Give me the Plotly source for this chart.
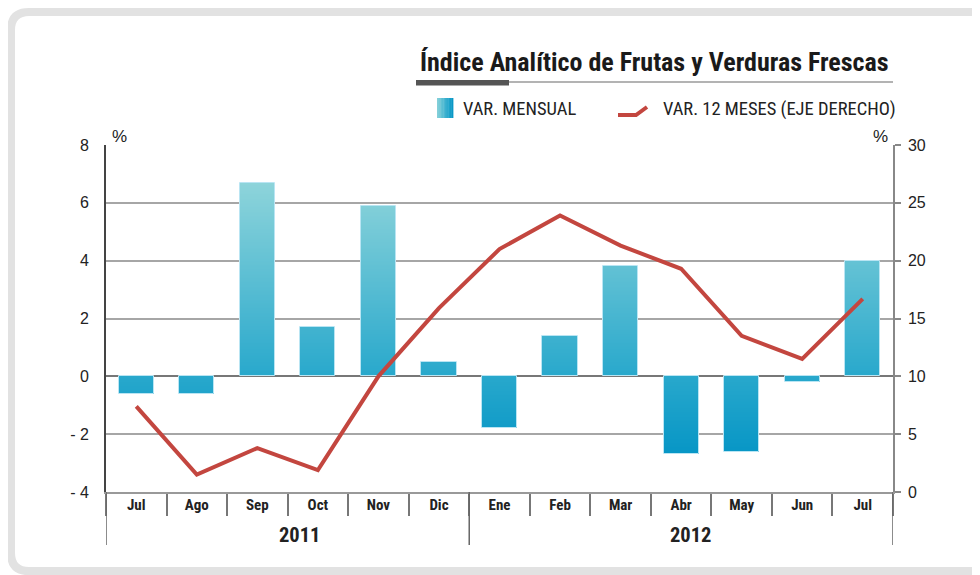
import plotly.graph_objects as go

# ---------------- data ----------------
months = ["Jul", "Ago", "Sep", "Oct", "Nov", "Dic", "Ene", "Feb", "Mar", "Abr", "May", "Jun", "Jul"]
years = ["2011"] * 6 + ["2012"] * 7
var_mensual = [-0.6, -0.6, 6.7, 1.7, 5.9, 0.5, -1.8, 1.4, 3.8, -2.7, -2.6, -0.2, 4.0]
var_12m = [7.4, 1.5, 3.8, 1.9, 10.0, 15.9, 21.0, 23.9, 21.3, 19.3, 13.5, 11.5, 16.7]
left_ticks = [-4, -2, 0, 2, 4, 6, 8]
left_ticktext = ["- 4", "- 2", "0", "2", "4", "6", "8"]
right_ticks = [0, 5, 10, 15, 20, 25, 30]
year_labels = ["2011", "2012"]
year_label_pos = [2.7, 9.15]
year_dividers = [-0.5, 5.5, 12.5]

cats = [f"{m}-{y}" for m, y in zip(months, years)]

# ------------- geometry helpers (reference pixel coords) -------------
OFF = 8                      # default page body margin
W, H = 980 - OFF, 575 - OFF
L, R, T, B = 106, 893, 145, 492
PW, PH = R - L, B - T


def xp(px):
    return (px - L) / PW


def yp(py):
    return (B - py) / PH


FONT_N = "Liberation Sans Narrow, Arial Narrow, Roboto Condensed, Liberation Sans, sans-serif"
FONT = "Liberation Sans, Arial, sans-serif"

# --------- gradient colour by absolute value ---------
stops = [(-3.0, (3, 148, 197)), (0.0, (40, 168, 204)), (7.0, (146, 214, 219))]


def grad(v):
    if v <= stops[0][0]:
        return "rgb(%d,%d,%d)" % stops[0][1]
    for (v0, c0), (v1, c1) in zip(stops[:-1], stops[1:]):
        if v <= v1:
            f = (v - v0) / (v1 - v0)
            return "rgb(%d,%d,%d)" % tuple(round(a + f * (b - a)) for a, b in zip(c0, c1))
    return "rgb(%d,%d,%d)" % stops[-1][1]


step = 0.05
seg_x, seg_base, seg_h, seg_c = [], [], [], []
for c, v in zip(cats, var_mensual):
    n = int(round(abs(v) / step))
    sgn = 1 if v >= 0 else -1
    for k in range(n):
        b0 = sgn * k * step
        h = sgn * min(step * 1.6, abs(v) - k * step)
        seg_x.append(c)
        seg_base.append(b0)
        seg_h.append(h)
        seg_c.append(grad(b0 + h / 2))

fig = go.Figure()

fig.add_trace(go.Bar(
    x=seg_x, y=seg_h, base=seg_base, width=0.58,
    marker=dict(color=seg_c, line=dict(width=0)),
    showlegend=False, hoverinfo="skip",
))
fig.add_trace(go.Bar(
    x=cats, y=var_mensual, width=0.58, name="VAR. MENSUAL",
    marker=dict(color="rgba(0,0,0,0)", line=dict(color="#b9e5f3", width=1)),
    showlegend=False,
))
fig.add_trace(go.Scatter(
    x=cats, y=var_12m, yaxis="y2", mode="lines", name="VAR. 12 MESES (EJE DERECHO)",
    line=dict(color="#c3463f", width=4), showlegend=False,
))

shapes = []
annotations = []

# outer rounded frame
x0, y0, x1, y1, r = 11, 12, 1000, 571, 18
path = (f"M {xp(x0)},{yp(y0 + r)} L {xp(x0)},{yp(y1 - r)} Q {xp(x0)},{yp(y1)} {xp(x0 + r)},{yp(y1)} "
        f"L {xp(x1)},{yp(y1)} L {xp(x1)},{yp(y0)} L {xp(x0 + r)},{yp(y0)} Q {xp(x0)},{yp(y0)} {xp(x0)},{yp(y0 + r)} Z")
shapes.append(dict(type="path", xref="paper", yref="paper", path=path,
                   line=dict(color="#e2e2e2", width=8), fillcolor="rgba(0,0,0,0)", layer="below"))

# title + underline
annotations.append(dict(text="<b>Índice Analítico de Frutas y Verduras Frescas</b>", xref="paper", yref="paper",
                        x=xp(891), y=yp(62), xanchor="right", yanchor="middle", showarrow=False,
                        font=dict(family=FONT_N, size=26, color="#1a1a1a")))
shapes.append(dict(type="line", xref="paper", yref="paper", x0=xp(416), x1=xp(893), y0=yp(82), y1=yp(82),
                   line=dict(color="#9a9a9a", width=1.5)))
shapes.append(dict(type="rect", xref="paper", yref="paper", x0=xp(416), x1=xp(509), y0=yp(80), y1=yp(85.5),
                   line=dict(width=0), fillcolor="#555555"))

# legend: gradient square
nsq = 10
for i in range(nsq):
    f = i / (nsq - 1)
    col = grad(6.0 - f * 8.5)
    shapes.append(dict(type="rect", xref="paper", yref="paper",
                       x0=xp(437 + i * 1.6), x1=xp(437 + (i + 1) * 1.6 + 0.4), y0=yp(98), y1=yp(118),
                       line=dict(width=0), fillcolor=col))
annotations.append(dict(text="VAR. MENSUAL", xref="paper", yref="paper", x=xp(461), y=yp(109),
                        xanchor="left", yanchor="middle", showarrow=False,
                        font=dict(family=FONT_N, size=18.5, color="#222")))
shapes.append(dict(type="path", xref="paper", yref="paper",
                   path=f"M {xp(618)},{yp(115)} L {xp(636)},{yp(115)} L {xp(647)},{yp(107)}",
                   line=dict(color="#c3463f", width=4)))
annotations.append(dict(text="VAR. 12 MESES (EJE DERECHO)", xref="paper", yref="paper", x=xp(661), y=yp(109),
                        xanchor="left", yanchor="middle", showarrow=False,
                        font=dict(family=FONT_N, size=18.5, color="#222")))

# % unit labels
annotations.append(dict(text="%", xref="paper", yref="paper", x=xp(110), y=yp(136), xanchor="left",
                        yanchor="middle", showarrow=False, font=dict(family=FONT, size=17, color="#222")))
annotations.append(dict(text="%", xref="paper", yref="paper", x=xp(890), y=yp(136), xanchor="right",
                        yanchor="middle", showarrow=False, font=dict(family=FONT, size=17, color="#222")))

# year group labels and long dividers
for lab, pos in zip(year_labels, year_label_pos):
    annotations.append(dict(text="<b>%s</b>" % lab, xref="x", yref="paper", x=pos, y=yp(535),
                            xanchor="center", yanchor="middle", showarrow=False,
                            font=dict(family=FONT_N, size=20.5, color="#222")))
for d in year_dividers:
    shapes.append(dict(type="line", xref="x", yref="paper", x0=d, x1=d, y0=yp(492), y1=yp(545),
                       line=dict(color="#666", width=1.5)))

fig.update_layout(
    width=W, height=H,
    margin=dict(l=L - OFF, r=980 - R, t=T - OFF, b=575 - B, pad=0),
    paper_bgcolor="white", plot_bgcolor="white",
    barmode="overlay", bargap=0,
    showlegend=False,
    shapes=shapes, annotations=annotations,
    xaxis=dict(type="category", categoryorder="array", categoryarray=cats,
               tickvals=cats, ticktext=["<b>%s</b>" % m for m in months],
               range=[-0.5, len(cats) - 0.5],
               tickfont=dict(family=FONT_N, size=15, color="#222"),
               tickson="boundaries", ticks="outside", ticklen=22, tickwidth=1.5, tickcolor="#777",
               showgrid=False, showline=True, linecolor="#999", linewidth=1.5,
               ticklabelstandoff=-2, zeroline=False),
    yaxis=dict(range=[-4, 8], tickmode="array", tickvals=left_ticks, ticktext=left_ticktext,
               tickfont=dict(family=FONT, size=16, color="#222"),
               showgrid=True, gridcolor="#a6a6a6", gridwidth=1.5,
               zeroline=True, zerolinecolor="#777", zerolinewidth=2,
               showline=True, linecolor="#444", linewidth=2, ticks="", ticklabelstandoff=12),
    yaxis2=dict(range=[0, 30], overlaying="y", side="right", tickmode="array", tickvals=right_ticks,
                tickfont=dict(family=FONT, size=16, color="#222"),
                showgrid=False, zeroline=False, showline=True, linecolor="#888", linewidth=1.5,
                ticks="outside", ticklen=6, tickcolor="#888", tickwidth=1.5, ticklabelstandoff=4),
)

fig.write_html("out.html")
